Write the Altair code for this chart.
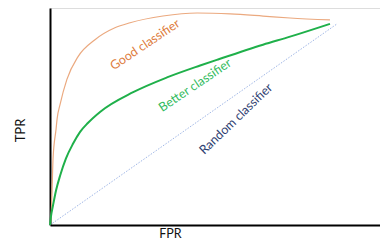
import altair as alt
import pandas as pd

good_x = [0, 0.003, 0.006, 0.009, 0.018, 0.021, 0.030, 0.050, 0.083, 0.133, 0.192, 0.237, 0.334, 0.435, 0.533, 0.630, 0.710, 0.828]
good_y = [0, 0.032, 0.155, 0.306, 0.443, 0.489, 0.557, 0.671, 0.776, 0.854, 0.909, 0.932, 0.963, 0.977, 0.973, 0.963, 0.954, 0.945]
better_x = [0, 0.003, 0.009, 0.018, 0.030, 0.047, 0.068, 0.089, 0.112, 0.148, 0.246, 0.346, 0.444, 0.497, 0.630, 0.710, 0.828]
better_y = [0, 0.041, 0.091, 0.160, 0.228, 0.306, 0.374, 0.429, 0.470, 0.521, 0.612, 0.680, 0.735, 0.763, 0.831, 0.868, 0.927]
random_x = [0, 0.849]
random_y = [0, 0.927]

label_text = ["Good classifier", "Better classifier", "Random classifier"]
label_x = [0.281, 0.429, 0.550]
label_y = [0.831, 0.644, 0.489]
label_angle = [326, 326, 316]
label_color = ["#dd7b3c", "#33bb5e", "#2f3f72"]

good = pd.DataFrame({"x": good_x, "y": good_y, "o": range(len(good_x))})
better = pd.DataFrame({"x": better_x, "y": better_y, "o": range(len(better_x))})
rnd = pd.DataFrame({"x": random_x, "y": random_y, "o": range(len(random_x))})
labels = pd.DataFrame({"t": label_text, "x": label_x, "y": label_y, "a": label_angle, "c": label_color})

xs = alt.Scale(domain=[0, 0.976], nice=False, zero=False)
ys = alt.Scale(domain=[0, 1], nice=False, zero=False)
xax = alt.Axis(title="FPR", labels=False, ticks=False, grid=False, domainColor="#000000",
               domainWidth=2, titleX=120, titleY=8, titleBaseline="middle", titleAlign="center",
               titleFont="Lato", titleFontSize=12.5, titleFontWeight="normal", titleColor="#111111")
yax = alt.Axis(title="TPR", labels=False, ticks=False, grid=False, domainColor="#000000",
               domainWidth=2, titleX=-30, titleY=122, titleAngle=270, titleBaseline="middle",
               titleAlign="center",
               titleFont="Lato", titleFontSize=13, titleFontWeight="normal", titleColor="#111111")

base_x = alt.X("x:Q", scale=xs, axis=xax)
base_y = alt.Y("y:Q", scale=ys, axis=yax)

l_rnd = alt.Chart(rnd).mark_line(color="#9fb6e6", strokeWidth=1, strokeDash=[1.5, 1.5]).encode(
    x=base_x, y=base_y, order="o:Q")
l_good = alt.Chart(good).mark_line(color="#eba97f", strokeWidth=1.2, interpolate="monotone").encode(
    x="x:Q", y="y:Q", order="o:Q")
l_better = alt.Chart(better).mark_line(color="#1fb04a", strokeWidth=2, interpolate="monotone").encode(
    x="x:Q", y="y:Q", order="o:Q")
txt = alt.Chart(labels).mark_text(font="Lato", fontSize=12.5, baseline="middle", align="center").encode(
    x="x:Q", y="y:Q", text="t:N", angle=alt.Angle("a:Q", scale=None), color=alt.Color("c:N", scale=None))

chart = alt.layer(l_rnd, l_good, l_better, txt).properties(
    width=330, height=217, autosize=alt.AutoSizeParams(type="none"),
    padding={"left": 42, "top": 0, "right": 0, "bottom": 16}
).configure_view(stroke=None).configure(background="white")

chart.save("out.html", embed_options={"renderer": "svg", "actions": False})
